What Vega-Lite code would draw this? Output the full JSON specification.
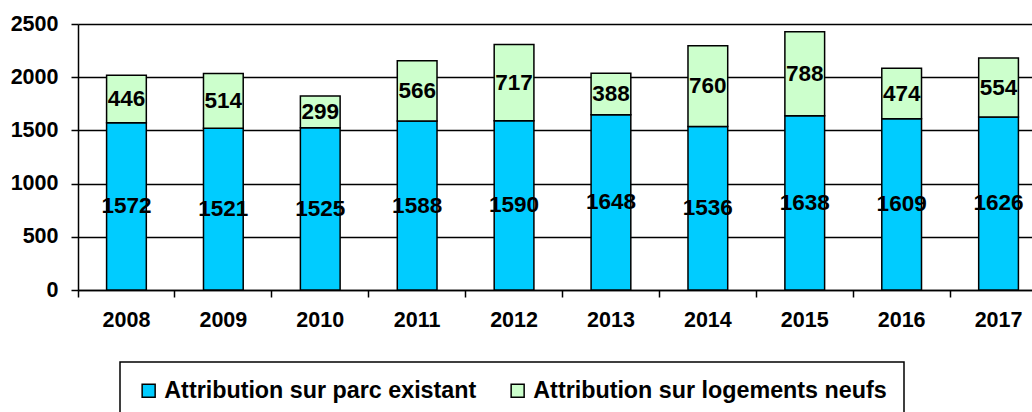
{
  "$schema": "https://vega.github.io/schema/vega-lite/v6.json",
  "autosize": {"type": "none"},
  "width": 954,
  "height": 266,
  "padding": {"left": 78, "top": 24, "right": 0, "bottom": 122},
  "background": "white",
  "config": {
    "view": {"stroke": null},
    "font": "Liberation Sans",
    "legend": {"strokeColor": "black", "strokeWidth": 1.5}
  },
  "data": {
    "values": [
      {"annee": "2008", "serie": "Attribution sur parc existant", "valeur": 1572},
      {"annee": "2008", "serie": "Attribution sur logements neufs", "valeur": 446},
      {"annee": "2009", "serie": "Attribution sur parc existant", "valeur": 1521},
      {"annee": "2009", "serie": "Attribution sur logements neufs", "valeur": 514},
      {"annee": "2010", "serie": "Attribution sur parc existant", "valeur": 1525},
      {"annee": "2010", "serie": "Attribution sur logements neufs", "valeur": 299},
      {"annee": "2011", "serie": "Attribution sur parc existant", "valeur": 1588},
      {"annee": "2011", "serie": "Attribution sur logements neufs", "valeur": 566},
      {"annee": "2012", "serie": "Attribution sur parc existant", "valeur": 1590},
      {"annee": "2012", "serie": "Attribution sur logements neufs", "valeur": 717},
      {"annee": "2013", "serie": "Attribution sur parc existant", "valeur": 1648},
      {"annee": "2013", "serie": "Attribution sur logements neufs", "valeur": 388},
      {"annee": "2014", "serie": "Attribution sur parc existant", "valeur": 1536},
      {"annee": "2014", "serie": "Attribution sur logements neufs", "valeur": 760},
      {"annee": "2015", "serie": "Attribution sur parc existant", "valeur": 1638},
      {"annee": "2015", "serie": "Attribution sur logements neufs", "valeur": 788},
      {"annee": "2016", "serie": "Attribution sur parc existant", "valeur": 1609},
      {"annee": "2016", "serie": "Attribution sur logements neufs", "valeur": 474},
      {"annee": "2017", "serie": "Attribution sur parc existant", "valeur": 1626},
      {"annee": "2017", "serie": "Attribution sur logements neufs", "valeur": 554}
    ]
  },
  "encoding": {
    "x": {
      "field": "annee",
      "type": "nominal",
      "scale": {"range": [0, 969], "paddingInner": 0, "paddingOuter": 0},
      "axis": {
        "title": null,
        "labelAngle": 0,
        "labelFont": "Liberation Sans",
        "labelFontSize": 21.5,
        "labelFontWeight": "bold",
        "labelColor": "black",
        "labelPadding": 12,
        "bandPosition": 0,
        "tickColor": "black",
        "tickWidth": 1.5,
        "tickSize": 7,
        "domainColor": "black",
        "domainWidth": 1.5,
        "grid": false
      }
    },
    "y": {
      "field": "valeur",
      "type": "quantitative",
      "stack": "zero",
      "scale": {"domain": [0, 2500], "nice": false},
      "axis": {
        "title": null,
        "format": "d",
        "values": [0, 500, 1000, 1500, 2000, 2500],
        "labelFont": "Liberation Sans",
        "labelFontSize": 21.5,
        "labelFontWeight": "bold",
        "labelColor": "black",
        "labelPadding": 13,
        "tickColor": "black",
        "tickWidth": 1.5,
        "tickSize": 7,
        "domainColor": "black",
        "domainWidth": 1.5,
        "grid": true,
        "gridColor": "black",
        "gridWidth": 1.5
      }
    },
    "order": {"field": "serie", "sort": "descending"}
  },
  "layer": [
    {
      "mark": {"type": "bar", "width": {"band": 0.41}, "stroke": "black", "strokeWidth": 1.5},
      "encoding": {
        "color": {
          "field": "serie",
          "type": "nominal",
          "scale": {
            "domain": ["Attribution sur parc existant", "Attribution sur logements neufs"],
            "range": ["#00CCFF", "#CCFFCC"]
          },
          "legend": {
            "title": null,
            "orient": "none",
            "direction": "horizontal",
            "legendX": 42,
            "legendY": 338,
            "fillColor": "white",
            "padding": 17,
            "symbolType": "square",
            "symbolSize": 169,
            "symbolStrokeColor": "black",
            "symbolStrokeWidth": 1.5,
            "labelFont": "Liberation Sans",
            "labelFontSize": 23.3,
            "labelFontWeight": "bold",
            "labelColor": "black",
            "labelOffset": 4,
            "columnPadding": 29,
            "labelLimit": 600
          }
        }
      }
    },
    {
      "mark": {"type": "text", "font": "Liberation Sans", "fontSize": 22.5, "fontWeight": "bold", "color": "black", "baseline": "middle"},
      "encoding": {
        "y": {"field": "valeur", "type": "quantitative", "stack": "zero", "bandPosition": 0.5},
        "text": {"field": "valeur", "type": "quantitative"}
      }
    }
  ]
}
